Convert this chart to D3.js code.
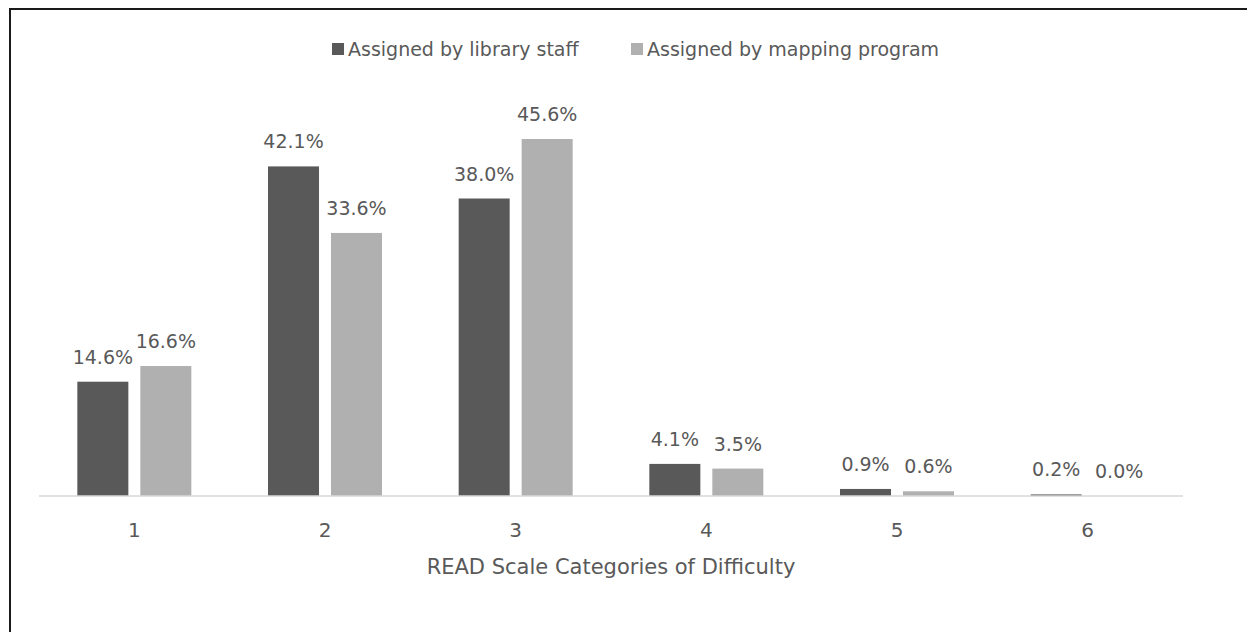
<!DOCTYPE html>
<meta charset="utf-8">
<style>
body { margin: 0; background: #fff; }
text {
  font-family: "DejaVu Sans", sans-serif;
  fill: #595959;
}
.axis-line { stroke: #d9d9d9; stroke-width: 1.5px; }
</style>
<svg width="1247" height="632"></svg>
<script src="https://d3js.org/d3.v7.min.js"></script>
<script>

var categories = ["1", "2", "3", "4", "5", "6"];
var seriesNames = ["Assigned by library staff", "Assigned by mapping program"];
var staffValues = [14.6, 42.1, 38.0, 4.1, 0.9, 0.2];
var programValues = [16.6, 33.6, 45.6, 3.5, 0.6, 0.0];
var seriesColors = ["#595959", "#b0b0b0"];
var axisTitle = "READ Scale Categories of Difficulty";

var svg = d3.select("svg");

// outer frame (runs off the right and bottom edge)
svg.append("rect")
    .attr("x", 10).attr("y", 9)
    .attr("width", 1300).attr("height", 700)
    .attr("fill", "none")
    .attr("stroke", "#1a1a1a")
    .attr("stroke-width", 2);

var baseline = 496;

var x0 = d3.scaleBand()
    .domain(categories)
    .range([39, 1183]);

var x1 = d3.scaleBand()
    .domain(seriesNames)
    .range([-57, 57])
    .paddingInner(0.19);

var y = d3.scaleLinear()
    .domain([0, 45.6])
    .range([baseline, 139]);

var rows = categories.map(function(c, i) {
  return {cat: c, values: [staffValues[i], programValues[i]]};
});

var groups = svg.append("g")
  .selectAll("g")
  .data(rows)
  .enter().append("g")
    .attr("transform", function(d) {
      return "translate(" + (x0(d.cat) + x0.bandwidth() / 2) + ",0)";
    });

var bars = groups.selectAll("g")
  .data(function(d) {
    return d.values.map(function(v, j) { return {name: seriesNames[j], value: v, j: j}; });
  })
  .enter().append("g");

bars.append("rect")
    .attr("x", function(d) { return x1(d.name); })
    .attr("y", function(d) { return y(d.value); })
    .attr("width", x1.bandwidth())
    .attr("height", function(d) { return baseline - y(d.value); })
    .attr("fill", function(d) { return seriesColors[d.j]; });

bars.append("text")
    .attr("x", function(d) { return x1(d.name) + x1.bandwidth() / 2; })
    .attr("y", function(d) { return y(d.value) - 18; })
    .attr("text-anchor", "middle")
    .style("font-size", "19px")
    .text(function(d) { return d.value.toFixed(1) + "%"; });

// x axis
svg.append("line")
    .attr("class", "axis-line")
    .attr("x1", x0.range()[0]).attr("x2", x0.range()[1])
    .attr("y1", baseline).attr("y2", baseline);

svg.append("g")
  .selectAll("text")
  .data(categories)
  .enter().append("text")
    .attr("x", function(d) { return x0(d) + x0.bandwidth() / 2; })
    .attr("y", 537)
    .attr("text-anchor", "middle")
    .style("font-size", "20px")
    .text(function(d) { return d; });

svg.append("text")
    .attr("x", 611)
    .attr("y", 574)
    .attr("text-anchor", "middle")
    .style("font-size", "21px")
    .text(axisTitle);

// legend
var legendX = [332, 631];
var legend = svg.append("g")
  .selectAll("g")
  .data(seriesNames)
  .enter().append("g")
    .attr("transform", function(d, i) { return "translate(" + legendX[i] + ",43)"; });

legend.append("rect")
    .attr("width", 12).attr("height", 12)
    .attr("fill", function(d, i) { return seriesColors[i]; });

legend.append("text")
    .attr("x", 16)
    .attr("y", 13)
    .style("font-size", "19px")
    .text(function(d) { return d; });

</script>
